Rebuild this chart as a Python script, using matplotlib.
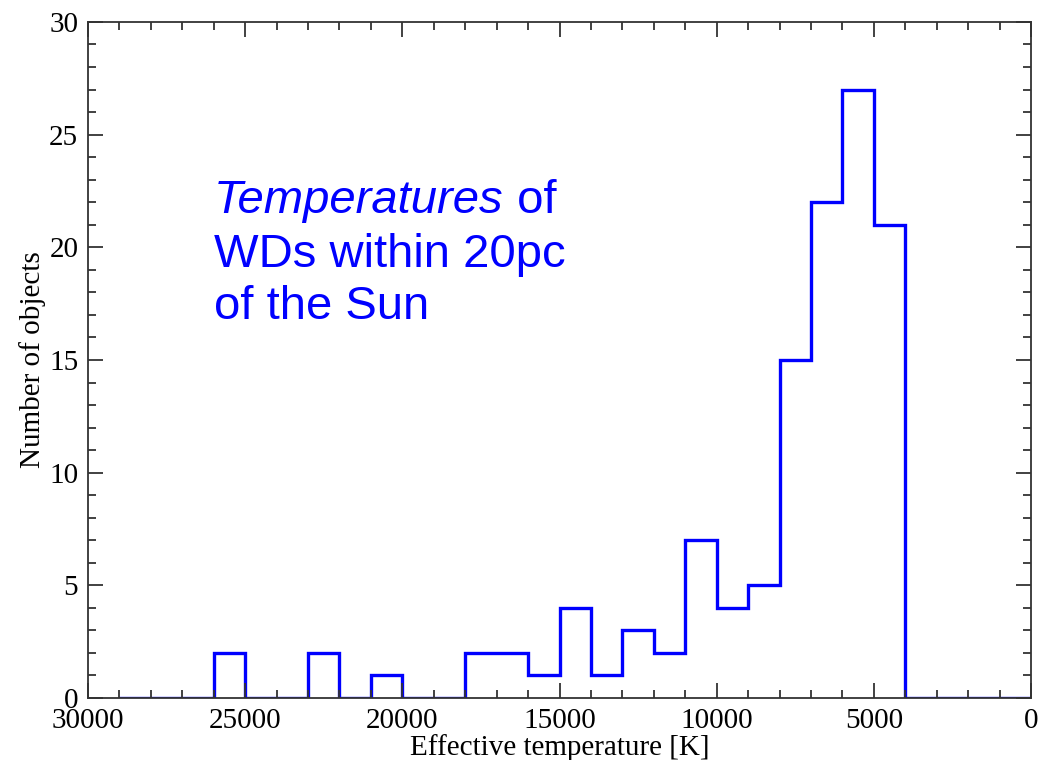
import numpy as np
import matplotlib.pyplot as plt
from matplotlib.ticker import MultipleLocator

# histogram of white dwarf effective temperatures, 1000 K bins from 29000 K down to 0 K
BIN_EDGES = np.arange(29000, -1, -1000)   # 29000, 28000, ..., 0
COUNTS = [0, 0, 0, 2, 0, 0, 2, 0, 1, 0,
          0, 2, 2, 1, 4, 1, 3, 2, 7, 4,
          5, 15, 22, 27, 21, 0, 0, 0, 0]

XLABEL = 'Effective temperature [K]'
YLABEL = 'Number of objects'

plt.rcParams['font.family'] = 'Liberation Serif'
plt.rcParams['axes.edgecolor'] = '#333333'

fig = plt.figure(figsize=(10.38, 7.6), dpi=100)
ax = fig.add_axes([0.0848, 0.0816, 0.9085, 0.8895])

ax.stairs(COUNTS, BIN_EDGES, color='#0000ff', lw=2.4)

ax.set_xlim(30000, 0)
ax.set_ylim(0, 30)
ax.xaxis.set_major_locator(MultipleLocator(5000))
ax.xaxis.set_minor_locator(MultipleLocator(1000))
ax.yaxis.set_major_locator(MultipleLocator(5))
ax.yaxis.set_minor_locator(MultipleLocator(1))
ax.tick_params(which='both', direction='in', top=True, right=True,
               color='#333333', width=1.3, labelsize=21)
ax.tick_params(which='major', length=11, pad=7)
ax.tick_params(which='minor', length=6)
for s in ax.spines.values():
    s.set_linewidth(1.3)

ax.set_xlabel(XLABEL, fontsize=21, labelpad=0)
ax.set_ylabel(YLABEL, fontsize=21, labelpad=2)

# annotation, first word in italics
tfont = dict(family='Liberation Sans', fontsize=34, color='#0000ff')
t1 = ax.text(0.1335, 0.7175, 'Temperatures', style='italic',
             transform=ax.transAxes, va='baseline', **tfont)
ax.annotate(' of', xy=(1, 0), xycoords=t1, va='bottom', **tfont)
ax.text(0.1335, 0.638, 'WDs within 20pc', transform=ax.transAxes,
        va='baseline', **tfont)
ax.text(0.1335, 0.560, 'of the Sun', transform=ax.transAxes,
        va='baseline', **tfont)

fig.savefig('out.png', dpi=100)
